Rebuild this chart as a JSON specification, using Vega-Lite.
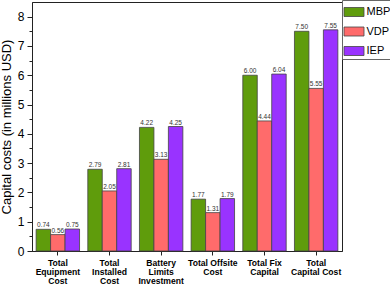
{
  "$schema": "https://vega.github.io/schema/vega-lite/v6.json",
  "width": 310,
  "height": 249,
  "autosize": {"type": "none"},
  "padding": {"left": 32, "top": 2, "right": 48, "bottom": 35},
  "background": "white",
  "config": {
    "font": "Liberation Sans",
    "view": {"stroke": "#222", "strokeWidth": 1}
  },
  "data": {
    "values": [
      {"cat": "Total|Equipment|Cost", "series": "MBP", "value": 0.74, "label": "0.74"},
      {"cat": "Total|Equipment|Cost", "series": "VDP", "value": 0.56, "label": "0.56"},
      {"cat": "Total|Equipment|Cost", "series": "IEP", "value": 0.75, "label": "0.75"},
      {"cat": "Total|Installed|Cost", "series": "MBP", "value": 2.79, "label": "2.79"},
      {"cat": "Total|Installed|Cost", "series": "VDP", "value": 2.05, "label": "2.05"},
      {"cat": "Total|Installed|Cost", "series": "IEP", "value": 2.81, "label": "2.81"},
      {"cat": "Battery|Limits|Investment", "series": "MBP", "value": 4.22, "label": "4.22"},
      {"cat": "Battery|Limits|Investment", "series": "VDP", "value": 3.13, "label": "3.13"},
      {"cat": "Battery|Limits|Investment", "series": "IEP", "value": 4.25, "label": "4.25"},
      {"cat": "Total Offsite|Cost", "series": "MBP", "value": 1.77, "label": "1.77"},
      {"cat": "Total Offsite|Cost", "series": "VDP", "value": 1.31, "label": "1.31"},
      {"cat": "Total Offsite|Cost", "series": "IEP", "value": 1.79, "label": "1.79"},
      {"cat": "Total Fix|Capital", "series": "MBP", "value": 6.00, "label": "6.00"},
      {"cat": "Total Fix|Capital", "series": "VDP", "value": 4.44, "label": "4.44"},
      {"cat": "Total Fix|Capital", "series": "IEP", "value": 6.04, "label": "6.04"},
      {"cat": "Total|Capital Cost", "series": "MBP", "value": 7.50, "label": "7.50"},
      {"cat": "Total|Capital Cost", "series": "VDP", "value": 5.55, "label": "5.55"},
      {"cat": "Total|Capital Cost", "series": "IEP", "value": 7.55, "label": "7.55"}
    ]
  },
  "encoding": {
    "x": {
      "field": "cat", "type": "nominal", "sort": null,
      "scale": {"paddingInner": 0.16, "paddingOuter": 0.08},
      "axis": {
        "title": null, "labelAngle": 0, "labelExpr": "split(datum.label, '|')",
        "labelFont": "Liberation Sans", "labelFontWeight": "bold", "labelFontSize": 8.6,
        "labelColor": "#000", "labelLineHeight": 9.3, "labelPadding": 3, "labelBaseline": "top",
        "domainColor": "#222", "tickColor": "#222", "tickSize": 4
      }
    },
    "xOffset": {"field": "series", "type": "nominal", "sort": ["MBP", "VDP", "IEP"]},
    "y": {
      "field": "value", "type": "quantitative",
      "scale": {"domain": [0, 8.5], "nice": false},
      "axis": {
        "title": "Capital costs (in millions USD)", "titleFontSize": 13, "titleFontWeight": "normal",
        "titleColor": "#000", "titlePadding": 4,
        "values": [0, 0.5, 1, 1.5, 2, 2.5, 3, 3.5, 4, 4.5, 5, 5.5, 6, 6.5, 7, 7.5, 8],
        "labelExpr": "datum.value % 1 === 0 ? format(datum.value, 'd') : ''",
        "labelFontSize": 12, "labelColor": "#000", "labelPadding": 3,
        "tickSize": {"condition": {"test": "datum.value % 1 === 0", "value": 5}, "value": 3},
        "grid": false, "domainColor": "#222", "tickColor": "#222"
      }
    }
  },
  "layer": [
    {
      "mark": {"type": "bar", "stroke": "#444", "strokeWidth": 0.8},
      "encoding": {
        "color": {
          "field": "series", "type": "nominal", "sort": ["MBP", "VDP", "IEP"],
          "scale": {"domain": ["MBP", "VDP", "IEP"], "range": ["#5f9c0c", "#ff6b6b", "#9933ff"]},
          "legend": {
            "title": null, "orient": "none", "legendX": 310, "legendY": -2,
            "symbolType": "M-1,-0.45H1V0.45H-1Z", "symbolSize": 400, "symbolStrokeColor": "#444",
            "symbolStrokeWidth": 0.8, "symbolOpacity": 1,
            "labelFontSize": 11, "labelColor": "#000", "rowPadding": 2.5,
            "strokeColor": "#666", "padding": 1.5, "labelOffset": 2, "labelLimit": 30
          }
        }
      }
    },
    {
      "mark": {"type": "text", "baseline": "bottom", "dy": -1, "fontSize": 6.5, "color": "#333"},
      "encoding": {"text": {"field": "label"}}
    }
  ]
}
